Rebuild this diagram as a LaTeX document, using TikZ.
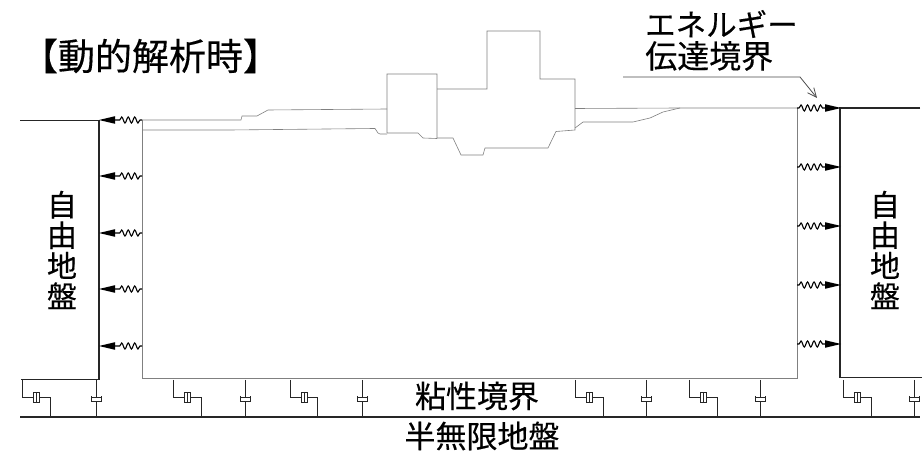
\documentclass[tikz,border=0pt]{standalone}
\usepackage{fontspec}
\newfontfamily\cjk[FakeBold=0.35]{Noto Sans CJK JP}
\usetikzlibrary{arrows.meta,decorations.pathmorphing}
\tikzset{
  wall/.style={line width=1.5pt,draw=black!85},
  soil/.style={line width=0.6pt,draw=black!50},
  pipe/.style={line width=1pt,draw=black!85},
  txt/.style={inner sep=0pt,font=\cjk,text=black},
  springline/.style={line width=1.1pt,draw=black,
    decoration={snake,segment length=6.5pt,amplitude=3pt,pre length=2pt,post length=2pt},decorate},
  tip/.style={fill=black,draw=none},
  pics/hdash/.style={code={
    \draw[pipe] (0,0) -- (0,18) -- (11,18);
    \draw[pipe] (17,18) -- (#1,18) -- (#1,37);
    \draw[pipe] (11,13) -- (17,13) -- (17,23) -- (11,23) -- cycle;
    \draw[pipe] (14,13) -- (14,23);
  }},
  pics/vdash/.style={code={
    \draw[pipe] (0,0) -- (0,18);
    \draw[pipe] (0,22) -- (0,37);
    \draw[pipe] (-5,16) -- (-5,22) -- (5,22) -- (5,16);
    \draw[pipe] (-5,18) -- (5,18);
  }}
}
\begin{document}
\begin{tikzpicture}[x=1pt,y=-1pt]
\useasboundingbox (0,0) rectangle (922,454);
\fill[white] (0,0) rectangle (922,454);
\coordinate (gl) at (20,120.5);
\coordinate (wlt) at (99,120.5);
\coordinate (wlb) at (99,380);
\coordinate (gr) at (920,108);
\coordinate (wrt) at (840,108);
\coordinate (wrb) at (840,378);
\coordinate (blt) at (142,120);
\coordinate (blb) at (142,378);
\coordinate (brb) at (797,378);
\coordinate (brt) at (797,108);
\coordinate (bl) at (20,417);
\coordinate (br) at (920,417);
\draw[soil] (blt) -- (blb) -- (brb) -- (brt);
\draw[soil] (blt) -- (241,120) -- (242,116) -- (257,116) -- (268,110) -- (387,109);
\draw[soil] (142,130) -- (230,130) -- (375,128.5) -- (378,133) -- (380,134) -- (387,134);
\draw[soil] (387,133) -- (387,74) -- (437,74) -- (437,138.5) (387,133) -- (418,133) -- (423,138) -- (437,138.5);
\draw[soil] (437,89) -- (487,89) -- (487,31) -- (540,31) -- (540,79) -- (575,79) -- (575,130)
  -- (556,131.5) -- (548,148) -- (485,148) -- (483,155) -- (461,155) -- (453,138) -- (437,138);
\draw[soil] (575,108.5) -- (680,108) -- (brt);
\draw[soil] (575,128) -- (583,122) -- (633,122) -- (650,118) -- (663,112) -- (680,108);
\draw[wall] (gl) -- (wlt) -- (wlb);
\draw[wall] (gr) -- (wrt) -- (wrb);
\draw[pipe] (21,380) -- (wlb);
\draw[pipe] (wrb) -- (922,378);
\draw[wall] (bl) -- (br);
\foreach \n/\y in {a/120,b/176,c/233,d/289,e/346}{
  \coordinate (sl\n) at (142,\y);
  \coordinate (ml\n) at (115,\y);
  \coordinate (tl\n) at (99,\y);
  \draw[springline] (sl\n) -- (ml\n);
  \fill[tip] (tl\n) -- ([yshift=-3.8pt]ml\n) -- ([yshift=3.8pt]ml\n) -- cycle;
}
\foreach \n/\y in {a/108,b/167,c/226,d/285,e/344}{
  \coordinate (sr\n) at (797,\y);
  \coordinate (mr\n) at (825,\y);
  \coordinate (tr\n) at (841,\y);
  \draw[springline] (sr\n) -- (mr\n);
  \fill[tip] (tr\n) -- ([yshift=-3.8pt]mr\n) -- ([yshift=3.8pt]mr\n) -- cycle;
}
\foreach \x/\e in {22/28,173/28,290/27,575/28,689/28,843/28}{
  \pic at (\x,380) {hdash={\e}};
}
\foreach \x in {96,245,362,646,760,914}{
  \pic at (\x,380) {vdash};
}
\coordinate (ca) at (623,77);
\coordinate (cb) at (800,77);
\coordinate (cc) at (817,98);
\draw[line width=0.8pt,draw=black!70,-{Straight Barb[length=9pt,width=8pt]}] (ca) -- (cb) -- (cc);
\node[txt,font=\cjk\fontsize{37}{37}\selectfont] (title) at (150.5,56) {【動的解析時】};
\node[txt,font=\cjk\fontsize{30.5}{30.5}\selectfont,anchor=west] (t1) at (645,24) {エネルギー};
\node[txt,font=\cjk\fontsize{32}{32}\selectfont,anchor=west] (t2) at (645,56) {伝達境界};
\node[txt,font=\cjk\fontsize{31}{31}\selectfont] (t3) at (477,396) {粘性境界};
\node[txt,font=\cjk\fontsize{31}{31}\selectfont] (t4) at (482,436) {半無限地盤};
\node[txt,font=\cjk\fontsize{30}{30.5}\selectfont,align=center] (t5) at (62,250) {自\\由\\地\\盤};
\node[txt,font=\cjk\fontsize{30}{30.5}\selectfont,align=center] (t6) at (885,250) {自\\由\\地\\盤};
\end{tikzpicture}
\end{document}
